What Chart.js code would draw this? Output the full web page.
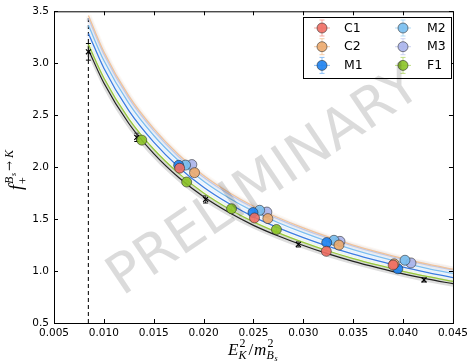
<!DOCTYPE html>
<html>
<head>
<meta charset="utf-8">
<script src="https://cdn.jsdelivr.net/npm/chart.js@4.4.1/dist/chart.umd.min.js"></script>
<style>
  html, body { margin: 0; padding: 0; background: #fff; }
  #chart { display: block; }
</style>
</head>
<body>
<canvas id="chart" width="472" height="362"></canvas>
<script>
// tick values
const xTicks = [0.005, 0.010, 0.015, 0.020, 0.025, 0.030, 0.035, 0.040, 0.045];
const yTicks = [0.5, 1.0, 1.5, 2.0, 2.5, 3.0, 3.5];

// fit curves, sampled along E_K^2 / m_Bs^2
const curveX   = [0.00845, 0.010, 0.0125, 0.015, 0.0175, 0.020, 0.0225, 0.025, 0.0275, 0.030, 0.0325, 0.035, 0.0375, 0.040, 0.0425, 0.045];
const curveRef = [3.13, 2.81, 2.42, 2.13, 1.90, 1.714, 1.565, 1.44, 1.337, 1.246, 1.165, 1.093, 1.03, 0.972, 0.922, 0.878];
const refBand  = [0.06, 0.055, 0.05, 0.045, 0.04, 0.038, 0.036, 0.034, 0.033, 0.032, 0.031, 0.03, 0.03, 0.03, 0.03, 0.03];
const curveF1  = [3.18, 2.858, 2.465, 2.172, 1.94, 1.751, 1.60, 1.473, 1.368, 1.276, 1.193, 1.12, 1.056, 0.997, 0.946, 0.901];
const curveM1  = [3.287, 2.952, 2.544, 2.241, 2.0, 1.807, 1.652, 1.522, 1.416, 1.322, 1.238, 1.163, 1.098, 1.038, 0.985, 0.937];
const curveM2  = [3.365, 3.026, 2.614, 2.305, 2.062, 1.865, 1.706, 1.574, 1.465, 1.369, 1.283, 1.207, 1.139, 1.078, 1.024, 0.978];
const curveM3  = [3.434, 3.088, 2.664, 2.351, 2.101, 1.903, 1.743, 1.609, 1.499, 1.402, 1.316, 1.239, 1.172, 1.111, 1.058, 1.012];
const curveC2  = [3.459, 3.111, 2.686, 2.371, 2.120, 1.920, 1.759, 1.624, 1.513, 1.415, 1.328, 1.250, 1.182, 1.120, 1.066, 1.018];

// kinematic cut (dashed line)
const cutX = [0.00845, 0.00845];
const cutY = [0.5, 3.45];

// reference points (black crosses)
const refX   = [0.00845, 0.0133, 0.0202, 0.0295, 0.0421];
const refY   = [3.11, 2.287, 1.69, 1.257, 0.915];
const refErr = [0.08, 0.04, 0.035, 0.025, 0.02];

// lattice ensembles
const c1X = [0.0176, 0.0251, 0.0323, 0.0390];
const c1Y = [1.99, 1.511, 1.19, 1.058];
const c1E = [0.04, 0.035, 0.03, 0.04];
const c2X = [0.01909, 0.02644, 0.03357, 0.0391];
const c2Y = [1.947, 1.505, 1.25, 1.07];
const c2E = [0.03, 0.03, 0.03, 0.03];
const m1X = [0.0175, 0.02495, 0.03234, 0.03947];
const m1Y = [2.018, 1.563, 1.274, 1.022];
const m1E = [0.03, 0.03, 0.03, 0.04];
const m2X = [0.01819, 0.02562, 0.03307, 0.04019];
const m2Y = [2.02, 1.585, 1.296, 1.104];
const m2E = [0.025, 0.025, 0.025, 0.03];
const m3X = [0.01882, 0.02634, 0.03367, 0.04079];
const m3Y = [2.025, 1.568, 1.286, 1.078];
const m3E = [0.025, 0.025, 0.025, 0.03];
const f1X = [0.0138, 0.0183, 0.0228, 0.0273];
const f1Y = [2.26, 1.857, 1.60, 1.40];
const f1E = [0.02, 0.02, 0.02, 0.02];

const FONT = '"DejaVu Sans", sans-serif';

function pts(xs, ys) {
    return xs.map((x, i) => ({ x: x, y: ys[i] }));
}

const series = [
    { label: 'C1', x: c1X, y: c1Y, e: c1E, fill: 'rgba(240,110,100,0.9)', bar: 'rgba(245,160,150,0.9)' },
    { label: 'C2', x: c2X, y: c2Y, e: c2E, fill: 'rgba(235,170,110,0.9)', bar: 'rgba(245,200,160,0.9)' },
    { label: 'M1', x: m1X, y: m1Y, e: m1E, fill: 'rgba(30,130,240,0.9)', bar: 'rgba(130,185,245,0.9)' },
    { label: 'M2', x: m2X, y: m2Y, e: m2E, fill: 'rgba(120,190,240,0.9)', bar: 'rgba(170,215,245,0.9)' },
    { label: 'M3', x: m3X, y: m3Y, e: m3E, fill: 'rgba(170,180,235,0.9)', bar: 'rgba(200,205,240,0.9)' },
    { label: 'F1', x: f1X, y: f1Y, e: f1E, fill: 'rgba(140,195,40,0.9)', bar: 'rgba(185,220,120,0.9)' },
];

const curves = [
    { y: curveC2, color: 'rgb(240,195,155)', halo: 'rgba(240,195,155,0.12)' },
    { y: curveM3, color: 'rgb(190,200,232)', halo: 'rgba(190,200,232,0.18)' },
    { y: curveM2, color: 'rgb(125,190,240)', halo: 'rgba(125,190,240,0.1)' },
    { y: curveM1, color: 'rgb(60,125,225)', halo: 'rgba(60,125,225,0.06)' },
    { y: curveF1, color: 'rgb(150,200,60)', halo: 'rgba(150,200,60,0.08)' },
];

const datasets = [];

// ensemble points on top
series.forEach((s) => {
    datasets.push({
        type: 'scatter',
        data: pts(s.x, s.y),
        errs: s.e,
        barColor: s.bar,
        backgroundColor: s.fill,
        borderColor: 'rgba(40,40,40,0.7)',
        borderWidth: 0.8,
        pointRadius: 5,
        order: 0,
    });
});

// reference crosses
datasets.push({
    type: 'scatter',
    data: pts(refX, refY),
    errs: refErr,
    barColor: '#000',
    pointStyle: 'crossRot',
    pointRadius: 3.5,
    borderColor: '#000',
    borderWidth: 1.2,
    order: 1,
});

// colored fit lines
curves.forEach((c) => {
    datasets.push({
        type: 'line',
        data: pts(curveX, c.y),
        borderColor: c.color,
        borderWidth: 1.3,
        pointRadius: 0,
        cubicInterpolationMode: 'monotone',
        order: 3,
    });
    datasets.push({
        type: 'line',
        data: pts(curveX, c.y),
        borderColor: c.halo,
        borderWidth: 6,
        pointRadius: 0,
        cubicInterpolationMode: 'monotone',
        order: 5,
    });
});

// black fit line with grey band
datasets.push({
    type: 'line',
    data: pts(curveX, curveRef),
    borderColor: '#222',
    borderWidth: 1.2,
    pointRadius: 0,
    cubicInterpolationMode: 'monotone',
    order: 2,
});
datasets.push({
    type: 'line',
    data: pts(curveX, curveRef.map((v, i) => v - refBand[i])),
    borderColor: 'rgba(0,0,0,0)',
    borderWidth: 0,
    pointRadius: 0,
    cubicInterpolationMode: 'monotone',
    order: 6,
});
datasets.push({
    type: 'line',
    data: pts(curveX, curveRef.map((v, i) => v + refBand[i])),
    borderColor: 'rgba(0,0,0,0)',
    borderWidth: 0,
    pointRadius: 0,
    fill: '-1',
    backgroundColor: 'rgba(170,170,170,0.4)',
    cubicInterpolationMode: 'monotone',
    order: 6,
});

// dashed cut line
datasets.push({
    type: 'line',
    data: pts(cutX, cutY),
    borderColor: '#222',
    borderWidth: 1.2,
    borderDash: [4, 3],
    pointRadius: 0,
    order: 4,
});

const errorBars = {
    id: 'errorBars',
    beforeDatasetsDraw(chart) {
        const ctx = chart.ctx;
        const ys = chart.scales.y;
        chart.data.datasets.forEach((ds, di) => {
            if (!ds.errs) return;
            const meta = chart.getDatasetMeta(di);
            ctx.save();
            ctx.strokeStyle = ds.barColor;
            ctx.lineWidth = 1;
            meta.data.forEach((el, i) => {
                const v = ds.data[i].y;
                const y1 = ys.getPixelForValue(v - ds.errs[i]);
                const y2 = ys.getPixelForValue(v + ds.errs[i]);
                ctx.beginPath();
                ctx.moveTo(el.x, y1);
                ctx.lineTo(el.x, y2);
                ctx.moveTo(el.x - 2.5, y1);
                ctx.lineTo(el.x + 2.5, y1);
                ctx.moveTo(el.x - 2.5, y2);
                ctx.lineTo(el.x + 2.5, y2);
                ctx.stroke();
            });
            ctx.restore();
        });
    },
};

const frame = {
    id: 'frame',
    afterDraw(chart) {
        const ctx = chart.ctx;
        const a = chart.chartArea;
        const xs = chart.scales.x;
        const ys = chart.scales.y;
        ctx.save();
        ctx.strokeStyle = '#000';
        ctx.lineWidth = 1;
        ctx.strokeRect(a.left + 0.5, a.top + 0.5, a.right - a.left, a.bottom - a.top);
        ctx.beginPath();
        xTicks.forEach((v) => {
            const px = Math.round(xs.getPixelForValue(v)) + 0.5;
            ctx.moveTo(px, a.bottom);
            ctx.lineTo(px, a.bottom - 4);
            ctx.moveTo(px, a.top);
            ctx.lineTo(px, a.top + 4);
        });
        yTicks.forEach((v) => {
            const py = Math.round(ys.getPixelForValue(v)) + 0.5;
            ctx.moveTo(a.left, py);
            ctx.lineTo(a.left + 4, py);
            ctx.moveTo(a.right, py);
            ctx.lineTo(a.right - 4, py);
        });
        ctx.stroke();

        // legend
        const lx = 303, ly = 17, lw = 148, lh = 61;
        ctx.fillStyle = '#fff';
        ctx.fillRect(lx, ly, lw, lh);
        ctx.strokeRect(lx + 0.5, ly + 0.5, lw, lh);
        ctx.font = '12.5px ' + FONT;
        ctx.textBaseline = 'middle';
        ctx.textAlign = 'left';
        series.forEach((s, i) => {
            const col = i < 3 ? 0 : 1;
            const row = i % 3;
            const mx = col === 0 ? 322 : 403;
            const my = 28 + row * 18.7;
            ctx.strokeStyle = s.bar;
            ctx.lineWidth = 1;
            ctx.beginPath();
            ctx.moveTo(mx, my - 8);
            ctx.lineTo(mx, my + 8);
            ctx.moveTo(mx - 2.5, my - 8);
            ctx.lineTo(mx + 2.5, my - 8);
            ctx.moveTo(mx - 2.5, my + 8);
            ctx.lineTo(mx + 2.5, my + 8);
            ctx.moveTo(mx - 8, my);
            ctx.lineTo(mx + 8, my);
            ctx.stroke();
            ctx.beginPath();
            ctx.arc(mx, my, 5, 0, Math.PI * 2);
            ctx.fillStyle = s.fill;
            ctx.fill();
            ctx.strokeStyle = 'rgba(40,40,40,0.7)';
            ctx.lineWidth = 0.8;
            ctx.stroke();
            ctx.fillStyle = '#000';
            ctx.fillText(s.label, col === 0 ? 344 : 427, my + 0.5);
        });

        // watermark, on top of everything
        ctx.save();
        ctx.translate(265, 183);
        ctx.rotate(-34 * Math.PI / 180);
        ctx.font = '55px ' + FONT;
        ctx.fillStyle = 'rgba(0,0,0,0.14)';
        ctx.textAlign = 'center';
        ctx.textBaseline = 'middle';
        ctx.fillText('PRELIMINARY', 0, 0);
        ctx.restore();

        // x axis title: E_K^2 / m_{B_s}^2
        ctx.fillStyle = '#000';
        ctx.textAlign = 'left';
        ctx.textBaseline = 'alphabetic';
        const base = 355;
        let x = 228;
        ctx.font = 'italic 17px "Liberation Serif", serif';
        ctx.fillText('E', x, base);
        x += ctx.measureText('E').width;
        ctx.font = 'italic 12px "Liberation Serif", serif';
        ctx.fillText('K', x, base + 4);
        ctx.font = '12px "Liberation Serif", serif';
        ctx.fillText('2', x + 1, base - 8);
        x += 10;
        ctx.font = '17px "Liberation Serif", serif';
        ctx.fillText('/', x, base);
        x += ctx.measureText('/').width + 1;
        ctx.font = 'italic 17px "Liberation Serif", serif';
        ctx.fillText('m', x, base);
        x += ctx.measureText('m').width;
        ctx.font = 'italic 12px "Liberation Serif", serif';
        ctx.fillText('B', x, base + 4);
        ctx.font = '12px "Liberation Serif", serif';
        ctx.fillText('2', x + 1, base - 8);
        ctx.font = 'italic 8px "Liberation Serif", serif';
        ctx.fillText('s', x + 8, base + 6);

        // y axis title: f_+^{B_s -> K}
        ctx.save();
        ctx.translate(22, 190);
        ctx.rotate(-Math.PI / 2);
        let yx = 0;
        ctx.font = 'italic 18px "Liberation Serif", serif';
        ctx.fillText('f', yx, 0);
        yx += ctx.measureText('f').width + 1;
        ctx.font = '12px "Liberation Serif", serif';
        ctx.fillText('+', yx, 5);
        ctx.font = 'italic 12px "Liberation Serif", serif';
        ctx.fillText('B', yx, -9);
        ctx.font = 'italic 8px "Liberation Serif", serif';
        ctx.fillText('s', yx + 8, -6);
        ctx.font = '12px "DejaVu Serif", serif';
        ctx.fillText('\u2192', yx + 13, -9);
        ctx.font = 'italic 12px "Liberation Serif", serif';
        ctx.fillText('K', yx + 26, -9);
        ctx.restore();

        ctx.restore();
    },
};

const chart = new Chart(document.getElementById('chart').getContext('2d'), {
    type: 'scatter',
    data: { datasets: datasets },
    options: {
        responsive: false,
        animation: false,
        layout: { padding: { left: 0, right: 15, top: 11, bottom: 0 } },
        plugins: {
            legend: { display: false },
            tooltip: { enabled: false },
        },
        scales: {
            x: {
                type: 'linear',
                min: 0.005,
                max: 0.045,
                grid: { display: false, drawTicks: false },
                border: { display: false },
                afterFit: (s) => { s.height = 39; },
                afterBuildTicks: (s) => { s.ticks = xTicks.map((v) => ({ value: v })); },
                ticks: {
                    autoSkip: false,
                    maxRotation: 0,
                    padding: 4,
                    color: '#000',
                    font: { family: FONT, size: 10.5 },
                    callback: (v) => v.toFixed(3),
                },
            },
            y: {
                type: 'linear',
                min: 0.5,
                max: 3.5,
                grid: { display: false, drawTicks: false },
                border: { display: false },
                afterFit: (s) => { s.width = 54; },
                afterBuildTicks: (s) => { s.ticks = yTicks.map((v) => ({ value: v })); },
                ticks: {
                    autoSkip: false,
                    padding: 5,
                    color: '#000',
                    font: { family: FONT, size: 10.5 },
                    callback: (v) => v.toFixed(1),
                },
            },
        },
    },
    plugins: [errorBars, frame],
});
</script>
</body>
</html>
